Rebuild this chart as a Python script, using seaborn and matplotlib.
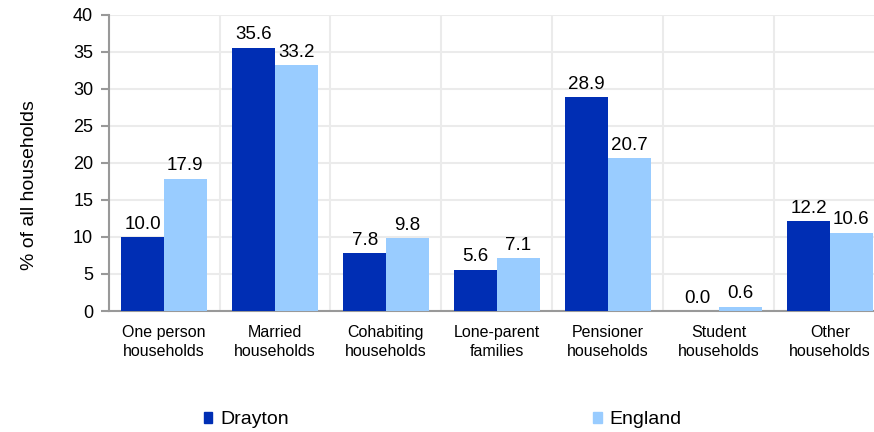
import pandas as pd
import matplotlib.pyplot as plt
import seaborn as sns

# --- datos ---
categorias = ["One person\nhouseholds", "Married\nhouseholds", "Cohabiting\nhouseholds",
              "Lone-parent\nfamilies", "Pensioner\nhouseholds", "Student\nhouseholds",
              "Other\nhouseholds"]
drayton = [10.0, 35.6, 7.8, 5.6, 28.9, 0.0, 12.2]
england = [17.9, 33.2, 9.8, 7.1, 20.7, 0.6, 10.6]
series = ["Drayton", "England"]
colores = ["#002EB4", "#99CCFF"]

df = pd.DataFrame({
    "categoria": categorias * 2,
    "valor": drayton + england,
    "serie": [series[0]] * len(categorias) + [series[1]] * len(categorias),
})

sns.set_style("white")
plt.rcParams['font.family'] = ['Liberation Sans', 'DejaVu Sans']
plt.rcParams['text.color'] = 'black'
plt.rcParams['xtick.color'] = 'black'
plt.rcParams['ytick.color'] = 'black'
plt.rcParams['axes.labelcolor'] = 'black'

fig = plt.figure(figsize=(8.74, 4.32), dpi=100)
ax = fig.add_axes([108.5 / 874, 121 / 432, 777 / 874, 296 / 432])

sns.barplot(data=df, x="categoria", y="valor", hue="serie", palette=colores,
            width=0.77, saturation=1, linewidth=0, ax=ax, legend=False, zorder=3)

for cont in ax.containers:
    ax.bar_label(cont, fmt='%.1f', padding=3, fontsize=13.5)

ax.set_xlim(-0.5, 6.5)
ax.set_ylim(0, 40)
ax.set_yticks(range(0, 41, 5))
ax.set_xlabel("")
ax.set_ylabel("% of all households", fontsize=14)
ax.yaxis.set_label_coords(-71 / 777, (311 - 185) / 296)

# lineas de separación entre categorías
ax.set_xticks([i + 0.5 for i in range(-1, 7)], minor=True)
ax.tick_params(axis='x', which='major', length=0, labelsize=11.5, pad=10)
for etiqueta in ax.get_xticklabels():
    etiqueta.set_linespacing(1.35)
ax.tick_params(axis='x', which='minor', length=5, color='#999999', width=1.5)
ax.tick_params(axis='y', length=6, color='#999999', width=1.5, labelsize=13, left=True, pad=5)
ax.grid(axis='y', color='#EBEBEB', linewidth=1.5, zorder=0)
ax.grid(axis='x', which='minor', color='#EBEBEB', linewidth=1.5, zorder=0)

for lado in ['top', 'right']:
    ax.spines[lado].set_visible(False)
for lado in ['left', 'bottom']:
    ax.spines[lado].set_color('#999999')
    ax.spines[lado].set_linewidth(1.5)

handles = [plt.Rectangle((0, 0), 1, 1, color=c) for c in colores]
fig.legend(handles, series, loc='center left', bbox_to_anchor=(186 / 874, 12 / 432),
           ncol=2, frameon=False, fontsize=14, handlelength=0.45, handleheight=0.5,
           handletextpad=0.4, columnspacing=15.65)

fig.savefig("out.png", dpi=100)
